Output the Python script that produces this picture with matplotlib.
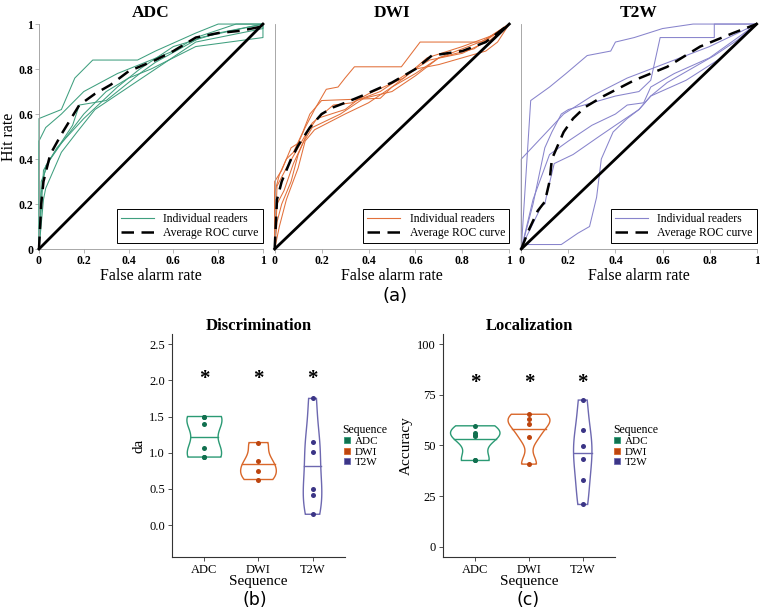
import numpy as np
import matplotlib
matplotlib.use('Agg')
import matplotlib.pyplot as plt
from matplotlib.lines import Line2D

# ---------------- data ----------------
sequences = ['ADC', 'DWI', 'T2W']

# individual reader ROC curves (false alarm rate, hit rate)
adc_readers = [
    ([0, 0, 0.10, 0.16, 0.24, 0.44, 0.52, 0.70, 0.80, 1.0], [0, 0.58, 0.62, 0.76, 0.84, 0.84, 0.88, 0.96, 1.0, 1.0]),
    ([0, 0, 0.03, 0.10, 0.20, 0.35, 0.45, 0.60, 0.70, 0.88, 1.0], [0, 0.48, 0.54, 0.60, 0.70, 0.78, 0.82, 0.88, 0.94, 1.0, 1.0]),
    ([0, 0.01, 0.03, 0.10, 0.20, 0.30, 0.40, 0.50, 0.70, 1.0, 1.0], [0, 0.25, 0.37, 0.47, 0.60, 0.70, 0.76, 0.80, 0.90, 0.94, 1.0]),
    ([0, 0.02, 0.03, 0.10, 0.17, 0.25, 0.40, 0.52, 0.70, 1.0, 1.0], [0, 0.22, 0.27, 0.43, 0.52, 0.62, 0.72, 0.80, 0.92, 0.98, 1.0]),
    ([0, 0.01, 0.05, 0.15, 0.18, 0.30, 0.45, 0.52, 0.72, 1.0], [0, 0.30, 0.40, 0.55, 0.64, 0.66, 0.78, 0.83, 0.94, 1.0]),
    ([0, 0.02, 0.08, 0.20, 0.35, 0.45, 0.60, 0.80, 1.0], [0, 0.35, 0.45, 0.58, 0.72, 0.80, 0.90, 0.96, 1.0]),
]
adc_mean = ([0, 0.01, 0.02, 0.05, 0.10, 0.18, 0.25, 0.32, 0.40, 0.52, 0.60, 0.70, 0.80, 0.90, 1.0],
            [0, 0.20, 0.30, 0.42, 0.51, 0.64, 0.69, 0.73, 0.79, 0.84, 0.88, 0.94, 0.96, 0.97, 0.99])

dwi_readers = [
    ([0, 0, 0.03, 0.07, 0.10, 0.13, 0.17, 0.22, 0.27, 0.30, 0.34, 0.54, 0.62, 0.88, 1.0],
     [0, 0.30, 0.35, 0.45, 0.47, 0.54, 0.62, 0.71, 0.72, 0.76, 0.81, 0.81, 0.92, 0.92, 1.0]),
    ([0, 0, 0.02, 0.05, 0.08, 0.12, 0.15, 0.20, 0.45, 0.50, 0.60, 0.70, 0.90, 1.0],
     [0, 0.25, 0.33, 0.40, 0.43, 0.52, 0.60, 0.66, 0.67, 0.72, 0.78, 0.85, 0.93, 1.0]),
    ([0, 0.01, 0.03, 0.07, 0.10, 0.14, 0.18, 0.30, 0.35, 0.45, 0.55, 0.66, 0.80, 0.92, 1.0],
     [0, 0.12, 0.20, 0.30, 0.42, 0.52, 0.58, 0.62, 0.66, 0.70, 0.77, 0.84, 0.87, 0.93, 1.0]),
    ([0, 0.02, 0.05, 0.10, 0.13, 0.17, 0.30, 0.40, 0.50, 0.60, 0.70, 0.90, 0.95, 1.0],
     [0, 0.10, 0.22, 0.36, 0.48, 0.53, 0.60, 0.65, 0.72, 0.80, 0.82, 0.88, 0.92, 1.0]),
    ([0, 0.01, 0.04, 0.08, 0.12, 0.16, 0.28, 0.38, 0.50, 0.60, 0.70, 0.85, 1.0],
     [0, 0.20, 0.26, 0.38, 0.47, 0.54, 0.60, 0.67, 0.70, 0.77, 0.85, 0.89, 1.0]),
    ([0, 0.01, 0.05, 0.10, 0.16, 0.25, 0.33, 0.40, 0.55, 0.65, 0.80, 0.93, 1.0],
     [0, 0.28, 0.36, 0.45, 0.56, 0.64, 0.65, 0.69, 0.76, 0.85, 0.90, 0.95, 1.0]),
]
dwi_mean = ([0, 0.01, 0.03, 0.07, 0.10, 0.15, 0.20, 0.25, 0.30, 0.37, 0.50, 0.60, 0.67, 0.80, 0.90, 1.0],
            [0, 0.22, 0.30, 0.40, 0.46, 0.54, 0.60, 0.63, 0.65, 0.68, 0.74, 0.80, 0.86, 0.88, 0.92, 1.0])

t2w_readers = [
    ([0, 0.04, 0.12, 0.19, 0.28, 0.38, 0.40, 0.48, 0.60, 0.73, 1.0],
     [0, 0.66, 0.72, 0.78, 0.86, 0.88, 0.92, 0.94, 0.98, 1.0, 1.0]),
    ([0, 0, 0.18, 0.30, 0.45, 0.60, 0.80, 1.0],
     [0, 0.40, 0.60, 0.68, 0.76, 0.82, 0.90, 1.0]),
    ([0, 0.05, 0.10, 0.13, 0.17, 0.20, 0.30, 0.40, 0.50, 0.55, 0.59, 0.82, 0.82, 1.0],
     [0, 0.20, 0.45, 0.52, 0.60, 0.62, 0.65, 0.68, 0.70, 0.75, 0.94, 0.94, 1.0, 1.0]),
    ([0, 0.02, 0.09, 0.10, 0.11, 0.14, 0.22, 0.33, 0.40, 0.50, 0.55, 0.70, 0.85, 1.0],
     [0, 0.05, 0.20, 0.20, 0.25, 0.38, 0.42, 0.50, 0.55, 0.62, 0.68, 0.75, 0.85, 1.0]),
    ([0, 0.02, 0.17, 0.24, 0.29, 0.32, 0.34, 0.39, 0.45, 0.50, 0.55, 0.62, 0.72, 0.82, 0.92, 1.0],
     [0, 0.02, 0.02, 0.07, 0.10, 0.23, 0.40, 0.52, 0.58, 0.62, 0.68, 0.74, 0.80, 0.86, 0.93, 1.0]),
    ([0, 0.05, 0.12, 0.20, 0.30, 0.40, 0.45, 0.52, 0.55, 0.65, 0.80, 1.0],
     [0, 0.22, 0.42, 0.48, 0.55, 0.60, 0.64, 0.65, 0.72, 0.78, 0.85, 1.0]),
]
t2w_mean = ([0, 0.03, 0.07, 0.10, 0.12, 0.13, 0.18, 0.22, 0.27, 0.35, 0.48, 0.62, 0.76, 0.90, 1.0],
            [0, 0.08, 0.17, 0.21, 0.30, 0.40, 0.52, 0.58, 0.63, 0.68, 0.75, 0.81, 0.90, 0.96, 1.0])

# reader scores per sequence (overlapping dots counted twice)
disc_adc = [1.50, 1.50, 1.39, 1.07, 0.94, 0.94]
disc_dwi = [1.14, 0.89, 0.75, 0.63]
disc_t2w = [1.75, 1.15, 1.01, 0.50, 0.42, 0.15]
loc_adc = [59.7, 56.1, 55.2, 54.8, 42.6, 42.6]
loc_dwi = [65.4, 62.9, 60.7, 54.3, 40.8]
loc_t2w = [72.4, 57.6, 49.7, 43.4, 33.1, 20.9]

roc_colors = ['#3f9f7f', '#e2703a', '#8884cc']
line_colors = ['#2b9a74', '#d9672a', '#6d68b0']
dot_colors = ['#11704f', '#bd450f', '#3b3586']

plt.rcParams['font.family'] = ['Liberation Serif', 'DejaVu Serif']

fig = plt.figure(figsize=(7.6, 6.12), dpi=100)

# ---------------- (a) ROC curves ----------------
top_boxes = [[0.0513, 0.5931, 0.2947, 0.3676],
             [0.3614, 0.5931, 0.3087, 0.3676],
             [0.6859, 0.5931, 0.3097, 0.3676]]
all_readers = [adc_readers, dwi_readers, t2w_readers]
all_means = [adc_mean, dwi_mean, t2w_mean]

for i in range(3):
    ax = fig.add_axes(top_boxes[i])
    for fpr, tpr in all_readers[i]:
        ax.plot(fpr, tpr, color=roc_colors[i], lw=0.75, clip_on=False)
    ax.plot([0, 1], [0, 1], color='black', lw=2.0, clip_on=False, zorder=4)
    ax.plot(all_means[i][0], all_means[i][1], color='black', lw=1.8,
            dashes=(5, 3), clip_on=False, zorder=5)
    ax.set_xlim(0, 1)
    ax.set_ylim(0, 1)
    for s in ['top', 'right']:
        ax.spines[s].set_visible(False)
    for s in ['left', 'bottom']:
        ax.spines[s].set_color('#9a9a9a')
        ax.spines[s].set_linewidth(0.6)
    ticks = [0, 0.2, 0.4, 0.6, 0.8, 1]
    ax.set_xticks(ticks)
    ax.set_xticklabels(['%g' % t for t in ticks], fontsize=8.5, fontweight='bold')
    ax.tick_params(axis='x', length=3, width=0.5, color='#9a9a9a', pad=1)
    if i == 0:
        ax.set_yticks(ticks)
        ax.set_yticklabels(['%g' % t for t in ticks], fontsize=8.5, fontweight='bold')
        ax.tick_params(axis='y', length=3, width=0.5, color='#9a9a9a', pad=1)
        ax.set_ylabel('Hit rate', fontsize=11.5, labelpad=1)
    else:
        ax.tick_params(axis='y', left=False, labelleft=False)
    ax.set_xlabel('False alarm rate', fontsize=11.5, labelpad=1)
    ax.set_title(sequences[i], fontsize=12.5, fontweight='bold', pad=5)
    handles = [Line2D([], [], color=roc_colors[i], lw=0.8),
               Line2D([], [], color='black', lw=1.8, dashes=(5, 3))]
    leg = ax.legend(handles, ['Individual readers', 'Average ROC curve'],
                    loc='lower right', bbox_to_anchor=(1.0, 0.025), borderaxespad=0,
                    fontsize=8.5, handlelength=2.8, fancybox=False, framealpha=1,
                    borderpad=0.35, labelspacing=0.15, handletextpad=0.8)
    leg.get_frame().set_edgecolor('black')
    leg.get_frame().set_linewidth(0.7)

fig.text(395 / 760, 1 - 296 / 612, '(a)', family='DejaVu Sans', fontsize=13, ha='center', va='center')


# ---------------- (b), (c) violins ----------------
def violin_shape(vals, n=300):
    v = np.asarray(vals, float)
    sd = v.std(ddof=1)
    q75, q25 = np.percentile(v, [75, 25])
    lo = min(sd, (q75 - q25) / 1.34) if q75 > q25 else sd
    bw = 0.9 * lo * len(v) ** -0.2
    ys = np.linspace(v.min(), v.max(), n)
    d = np.exp(-0.5 * ((ys[:, None] - v[None, :]) / bw) ** 2).sum(1) / (len(v) * bw * np.sqrt(2 * np.pi))
    return ys, d


def draw_panel(ax, groups, width, title, ylabel, ylim, yticks, ytick_labels, star_y):
    shapes = [violin_shape(g) for g in groups]
    # violin width scaled by density times number of readers
    top = max(d.max() * len(g) for g, (_, d) in zip(groups, shapes))
    for i, (vals, (ys, d)) in enumerate(zip(groups, shapes)):
        x = i + 1
        hw = width / 2 * d * len(vals) / top
        ax.fill(np.r_[x + hw, (x - hw)[::-1]], np.r_[ys, ys[::-1]],
                facecolor='white', edgecolor=line_colors[i], lw=1.0, zorder=2)
        cdf = np.cumsum(d)
        cdf = cdf / cdf[-1]
        m = np.interp(0.5, cdf, ys)
        mw = np.interp(m, ys, hw)
        ax.plot([x - mw, x + mw], [m, m], color=line_colors[i], lw=1.0, zorder=3)
        ax.scatter(np.full(len(vals), x), vals, s=13, color=dot_colors[i], zorder=4, linewidths=0)
        ax.text(x, star_y, '*', ha='center', va='center', fontsize=15, fontweight='bold')
    ax.set_xlim(0.4, 3.6)
    ax.set_ylim(*ylim)
    ax.set_xticks([1, 2, 3])
    ax.set_xticklabels(sequences, fontsize=9)
    ax.set_yticks(yticks)
    ax.set_yticklabels(ytick_labels, fontsize=9)
    ax.tick_params(length=3, width=0.6, color='#333333', pad=2)
    for s in ['top', 'right']:
        ax.spines[s].set_visible(False)
    for s in ['left', 'bottom']:
        ax.spines[s].set_color('#333333')
        ax.spines[s].set_linewidth(0.8)
    ax.set_title(title, fontsize=12, fontweight='bold', pad=2)
    ax.set_xlabel('Sequence', fontsize=11, labelpad=-1)
    ax.set_ylabel(ylabel, fontsize=11, labelpad=3)
    handles = [Line2D([], [], ls='', marker='s', markersize=5, markerfacecolor=dot_colors[k],
                      markeredgecolor=line_colors[k], markeredgewidth=0.6) for k in range(3)]
    ax.legend(handles, sequences, title='Sequence', loc='center left',
              bbox_to_anchor=(0.955, 0.5), frameon=False, fontsize=8,
              title_fontsize=8.5, handlelength=0.8, handletextpad=0.3,
              labelspacing=0.05, borderpad=0, alignment='left')


axb = fig.add_axes([0.2263, 0.0899, 0.2276, 0.3644])
draw_panel(axb, [disc_adc, disc_dwi, disc_t2w], 0.66, 'Discrimination', 'da',
           (-0.44, 2.64), [0, 0.5, 1, 1.5, 2, 2.5], ['0.0', '0.5', '1.0', '1.5', '2.0', '2.5'], 2.02)

axc = fig.add_axes([0.5829, 0.0899, 0.2263, 0.3644])
draw_panel(axc, [loc_adc, loc_dwi, loc_t2w], 0.92, 'Localization', 'Accuracy',
           (-5, 105), [0, 25, 50, 75, 100], ['0', '25', '50', '75', '100'], 81)

fig.text(255 / 760, 1 - 600 / 612, '(b)', family='DejaVu Sans', fontsize=12.5, ha='center', va='center')
fig.text(528 / 760, 1 - 600 / 612, '(c)', family='DejaVu Sans', fontsize=12.5, ha='center', va='center')

fig.savefig('out.png', dpi=100)
